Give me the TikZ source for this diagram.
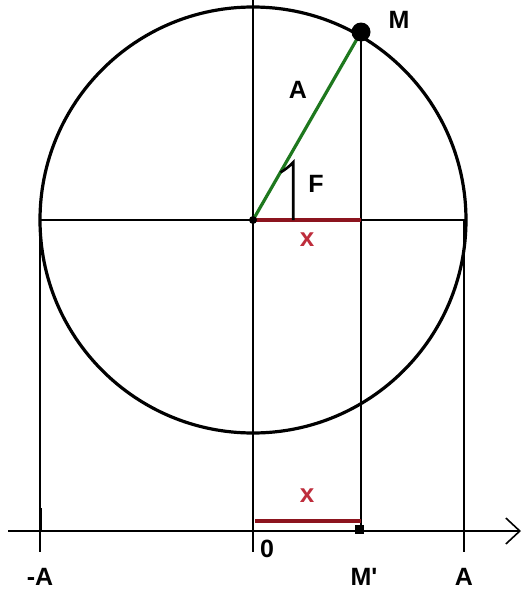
\documentclass[tikz,border=0pt]{standalone}
\usepackage{fontspec}
\setmainfont{Liberation Sans}
\usetikzlibrary{arrows.meta}
\definecolor{vecgreen}{RGB}{30,120,30}
\definecolor{segred}{RGB}{140,20,30}
\definecolor{labred}{RGB}{190,45,60}
\tikzset{
  lbl/.style={font=\fontsize{25}{28}\selectfont\bfseries, inner sep=0pt},
  redlbl/.style={font=\fontsize{26}{28}\selectfont\bfseries, text=labred, inner sep=0pt},
  thin line/.style={line width=1.8pt, black},
  thick line/.style={line width=3.2pt, black},
}
\begin{document}
\begin{tikzpicture}[x=1pt,y=-1pt]
\useasboundingbox (0,0) rectangle (523,592);
% key points
\coordinate (O) at (253,220);
\coordinate (Mp0) at (361,32);
\coordinate (L) at (40,220);
\coordinate (R) at (466,220);
\coordinate (Otop) at (253,0);
\coordinate (Obot) at (253,552);
\coordinate (Mbot) at (361,530);
\coordinate (Lt) at (40,220);
\coordinate (Lb) at (40,552);
\coordinate (Rb) at (464,552);
\coordinate (Rt) at (464,220);
\coordinate (Ax0) at (8,531);
\coordinate (Ax1) at (521,531);
\coordinate (X1) at (361,220);
\coordinate (B0) at (255,521);
\coordinate (B1) at (361,521);
% circle
\draw[thick line] (O) circle[radius=213];
% horizontal diameter
\draw[thin line] (L) -- (R);
% verticals
\draw[thin line] (Otop) -- (Obot);
\draw[thin line] (Mp0) -- (Mbot);
\draw[thin line] (Lt) -- (Lb);
\draw[line width=3pt] (40,508) -- (40,531);
\draw[thin line] (Rt) -- (Rb);
% axis
\draw[thin line, -{Straight Barb[length=14pt,width=26pt,line width=1.6pt]}] (Ax0) -- (Ax1);
% red segments
\draw[segred, line width=3.2pt] (O) -- (X1);
\draw[segred, line width=3.2pt] (B0) -- (B1);
% green radius
\draw[vecgreen, line width=3.2pt] (O) -- (Mp0);
% angle mark
\draw[line width=2.6pt] (280.5,172.4) arc[start angle=60,end angle=43,radius=55] -- (293.2,220);
% points
\fill (Mp0) circle[radius=9.5];
\fill (O) circle[radius=4];
\fill (355,525) rectangle (364,534);
% labels
\node[lbl] (lM) at (399,20) {M};
\node[lbl] (lA) at (298,90) {A};
\node[lbl] (lF) at (316,184) {F};
\node[redlbl] (lx1) at (307,240) {x};
\node[redlbl] (lx2) at (307,496) {x};
\node[lbl] (l0) at (267,549) {0};
\node[lbl] (lmA) at (40,577) {-A};
\node[lbl] (lMp) at (364,577) {M\textquotesingle};
\node[lbl] (lAA) at (464,577) {A};
\end{tikzpicture}
\end{document}
